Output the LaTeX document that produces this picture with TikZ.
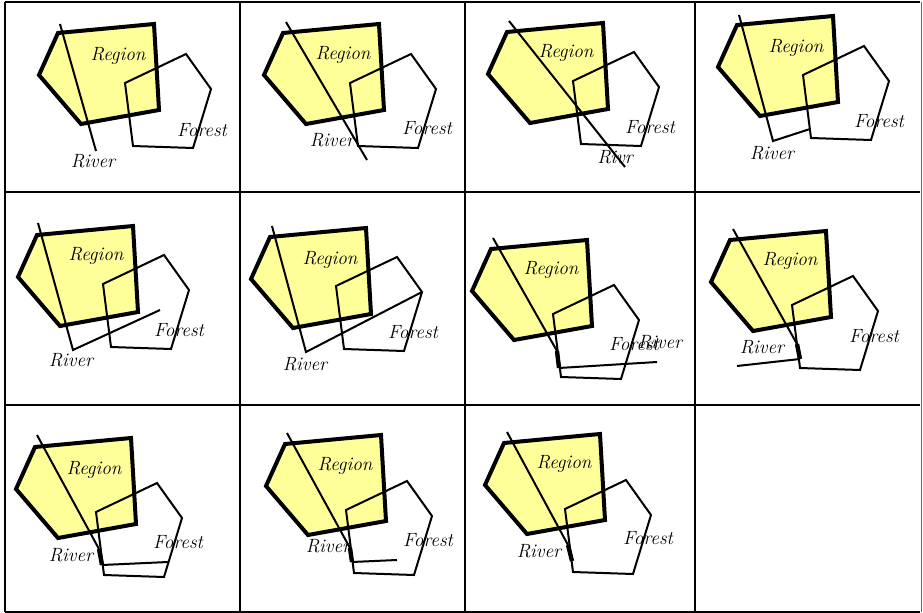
\documentclass[tikz,border=0pt]{standalone}
\usepackage{tikz}
\definecolor{regionyellow}{RGB}{255,255,153}

\begin{document}
\begin{tikzpicture}[x=0.6pt,y=-0.6pt,
    region/.style={fill=regionyellow,draw=black,line width=2.4pt},
    forest/.style={draw=black,line width=1.2pt},
    river/.style={draw=black,line width=1.2pt},
    overlap/.style={draw=black,line width=2.6pt},
    lbl/.style={font=\fontsize{11.5}{13}\selectfont\itshape,inner sep=0pt},
    cellline/.style={draw=black,line width=1.2pt}]
  \useasboundingbox (0,0) rectangle (923,613);
  % Cells: region corner / forest corner
  \foreach \k/\rx/\ry/\fx/\fy in {1/58/33/125/83,2/283/33/350/83,3/507/32/573/81,
      4/737/25/803/75,5/37/235/103/284,6/270/237/336/286,7/491/249/553/314,
      8/730/240/792/305,9/35/447/96/512,10/285/444/346/510,11/504/443/565/509} {
    \filldraw[region,shift={(\rx,\ry)}] (0,0) -- (96,-9) -- (101,77) -- (23,91) -- (-19,42) -- cycle;
    \draw[forest,shift={(\fx,\fy)}] (0,0) -- (61,-29) -- (86,6) -- (68,65) -- (8,63) -- cycle;
  }
  % Rivers
  \draw[river] (60,24) -- (96,151);
  \draw[river] (286,22) -- (367,160);
  \draw[river] (509,21) -- (625,167);
  \draw[river] (739,15) -- (773,141) -- (810,129);
  \draw[river] (38,223) -- (73,350) -- (160,310);
  \draw[river] (272,226) -- (306,352) -- (422,292);
  \draw[river] (493,238) -- (557,351);
  \draw[overlap] (557,351) -- (559,368);
  \draw[river] (559,368) -- (657,362);
  \draw[river] (733,229) -- (797,344);
  \draw[overlap] (797,344) -- (800,359);
  \draw[river] (800,359) -- (737,366);
  \draw[river] (37,435) -- (99,549);
  \draw[overlap] (99,549) -- (102,565);
  \draw[river] (102,565) -- (168,562);
  \draw[river] (287,433) -- (350,548);
  \draw[overlap] (350,548) -- (352,562);
  \draw[river] (352,562) -- (397,560);
  \draw[river] (507,432) -- (568,545);
  \draw[overlap] (568,545) -- (572,561);
  % Labels
  \foreach \k/\gx/\gy/\ox/\oy/\vx/\vy/\t in {1/118/56/202/130/93/161/River,
      2/343/55/427/128/332/140/River,3/566/53/650/127/615/157/Rivr,
      4/796/48/879/121/772/153/River,5/96/256/179/330/71/360/River,
      6/330/260/413/332/305/364/River,7/551/270/634/344/660/342/River,
      8/790/261/874/336/762/347/River,9/94/470/178/542/71/555/River,
      10/345/466/428/540/328/546/River,11/564/464/648/538/539/551/River} {
    \node[lbl] (reg\k) at (\gx,\gy) {Region};
    \node[lbl] (for\k) at (\ox,\oy) {Forest};
    \node[lbl] (riv\k) at (\vx,\vy) {\t};
  }
  % Grid
  \draw[cellline] (4.5,2) -- (920,2);
  \draw[cellline] (4.5,192) -- (920,192);
  \draw[cellline] (4.5,405) -- (920,405);
  \draw[cellline] (4.5,611.5) -- (920,611.5);
  \foreach \x in {4.5,240,465,695}
    \draw[cellline] (\x,2) -- (\x,611.5);
  \draw[black!60,line width=0.6pt] (921.5,2) -- (921.5,611.5);
\end{tikzpicture}
\end{document}
